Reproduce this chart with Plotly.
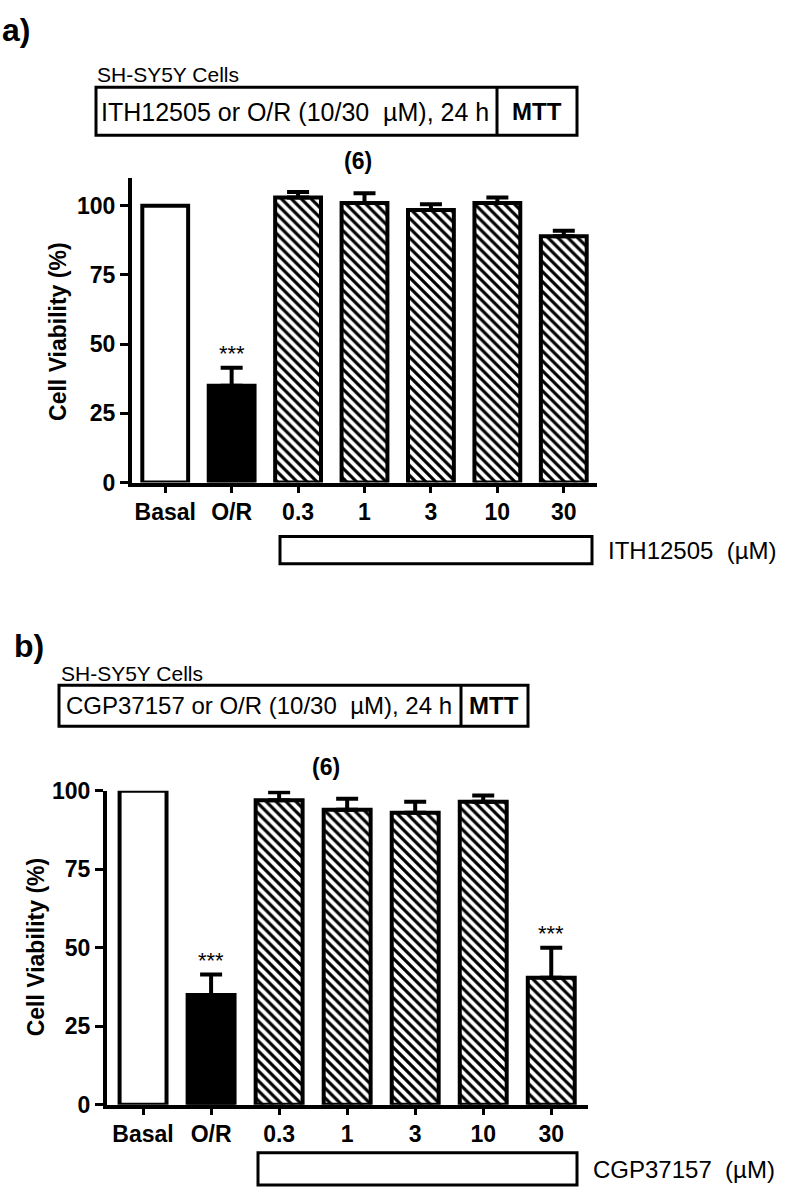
import plotly.graph_objects as go

W, H = 788, 1201

# ---------------- data ----------------
categories = ["Basal", "O/R", "0.3", "1", "3", "10", "30"]
a_means = [100, 35, 103, 101, 98.5, 101, 89]
a_errs = [0, 6.5, 2, 3.5, 2, 2, 2]
b_means = [100, 35, 97, 94, 93, 96.5, 40.5]
b_errs = [0, 6.5, 2.5, 3.5, 3.5, 2, 9.5]
a_stars = ["", "***", "", "", "", "", ""]
b_stars = ["", "***", "", "", "", "", "***"]
y_ticks = [0, 25, 50, 75, 100]

FONT = "Liberation Sans, Arial, sans-serif"


def px_x(p):
    return p / W


def px_y(p):
    return 1 - p / H


xpos = list(range(len(categories)))

fig = go.Figure()


def add_panel(means, errs, xa, ya):
    groups = [
        ([0], dict(color="white")),
        ([1], dict(color="black")),
        ([2, 3, 4, 5, 6], dict(color="white",
                               pattern=dict(shape="\\", fgcolor="black", fgopacity=1,
                                            size=7, solidity=0.45, fillmode="overlay"))),
    ]
    for idx, mk in groups:
        mk = dict(mk, line=dict(color="black", width=4))
        fig.add_trace(go.Bar(
            x=[xpos[i] for i in idx], y=[means[i] for i in idx], width=0.69,
            xaxis=xa, yaxis=ya, marker=mk,
            error_y=dict(type="data", array=[errs[i] for i in idx],
                         arrayminus=[0] * len(idx), symmetric=False,
                         color="black", thickness=4, width=11,
                         visible=any(errs[i] > 0 for i in idx)),
            cliponaxis=False, showlegend=False, hoverinfo="skip",
        ))


add_panel(a_means, a_errs, "x", "y")
add_panel(b_means, b_errs, "x2", "y2")

tick_font = dict(family=FONT, size=23, color="black", weight="bold")
axis_common = dict(showgrid=False, zeroline=False, showline=True, linecolor="black",
                   linewidth=4, ticks="outside", tickcolor="black", tickwidth=3,
                   tickfont=tick_font, fixedrange=True)

fig.update_layout(
    width=W, height=H, autosize=False,
    margin=dict(l=0, r=0, t=0, b=0),
    paper_bgcolor="white", plot_bgcolor="white",
    barmode="overlay",
    xaxis=dict(axis_common, domain=[px_x(132), px_x(597)], range=[-0.5, 6.5],
               tickvals=xpos, ticktext=categories, ticklen=6, anchor="y"),
    yaxis=dict(axis_common, domain=[px_y(480), px_y(168.7)], range=[0, 110],
               tickvals=y_ticks, ticklen=8, anchor="x"),
    xaxis2=dict(axis_common, domain=[px_x(107), px_x(588)], range=[-0.53, 6.54],
                tickvals=xpos, ticktext=categories, ticklen=6, anchor="y2"),
    yaxis2=dict(axis_common, domain=[px_y(1116), px_y(795)], range=[0, 100],
                tickvals=y_ticks, ticklen=8, anchor="x2"),
)

shapes = []
annotations = []


def rect(x0, y0, x1, y1, w=3):
    shapes.append(dict(type="rect", xref="paper", yref="paper",
                       x0=px_x(x0), x1=px_x(x1), y0=px_y(y1), y1=px_y(y0),
                       line=dict(color="black", width=w), fillcolor="rgba(0,0,0,0)"))


def vline(x, y0, y1, w=3):
    shapes.append(dict(type="line", xref="paper", yref="paper",
                       x0=px_x(x), x1=px_x(x), y0=px_y(y1), y1=px_y(y0),
                       line=dict(color="black", width=w)))


def text(t, x, y, size, bold=False, xanchor="left", angle=0):
    annotations.append(dict(text=t, xref="paper", yref="paper", x=px_x(x), y=px_y(y),
                            xanchor=xanchor, yanchor="middle", showarrow=False,
                            textangle=angle,
                            font=dict(family=FONT, size=size, color="black",
                                      weight="bold" if bold else "normal")))


# ---- panel a header / footer ----
text("a)", 0, 17, 32, bold=True)
text("SH-SY5Y Cells", 95, 63, 21)
rect(96, 76, 577, 125)
vline(497, 76, 125)
text("ITH12505 or O/R (10/30  µM), 24 h", 99, 101, 25)
text("MTT", 537, 101, 24, bold=True, xanchor="center")
text("(6)", 358, 151, 23, bold=True, xanchor="center")
text("Cell Viability (%)", 58, 326, 23, bold=True, xanchor="center", angle=-90)
rect(280, 535, 592, 563)
text("ITH12505  (µM)", 606, 549, 24)

# ---- panel b header / footer ----
text("b)", 12, 647, 32, bold=True)
text("SH-SY5Y Cells", 59, 675, 21)
rect(59, 687, 528, 729)
vline(461, 687, 729)
text("CGP37157 or O/R (10/30  µM), 24 h", 64, 708, 24)
text("MTT", 494, 708, 24, bold=True, xanchor="center")
text("(6)", 326, 771, 23, bold=True, xanchor="center")
text("Cell Viability (%)", 36, 955, 23, bold=True, xanchor="center", angle=-90)
rect(258, 1165, 577, 1198)
text("CGP37157  (µM)", 591, 1182, 24)

# ---- significance stars (data coordinates) ----
for xr, yr, means, errs, stars in (("x", "y", a_means, a_errs, a_stars),
                                    ("x2", "y2", b_means, b_errs, b_stars)):
    for i, s in enumerate(stars):
        if s:
            annotations.append(dict(text=s, xref=xr, yref=yr, x=xpos[i], y=means[i] + errs[i],
                                    yanchor="bottom", yshift=0, showarrow=False,
                                    font=dict(family=FONT, size=22, color="black")))

fig.update_layout(shapes=shapes, annotations=annotations)
fig.write_html("out.html", config={"displayModeBar": False, "staticPlot": True},
               post_script="document.body.style.margin='0px';document.body.style.overflow='hidden';")
